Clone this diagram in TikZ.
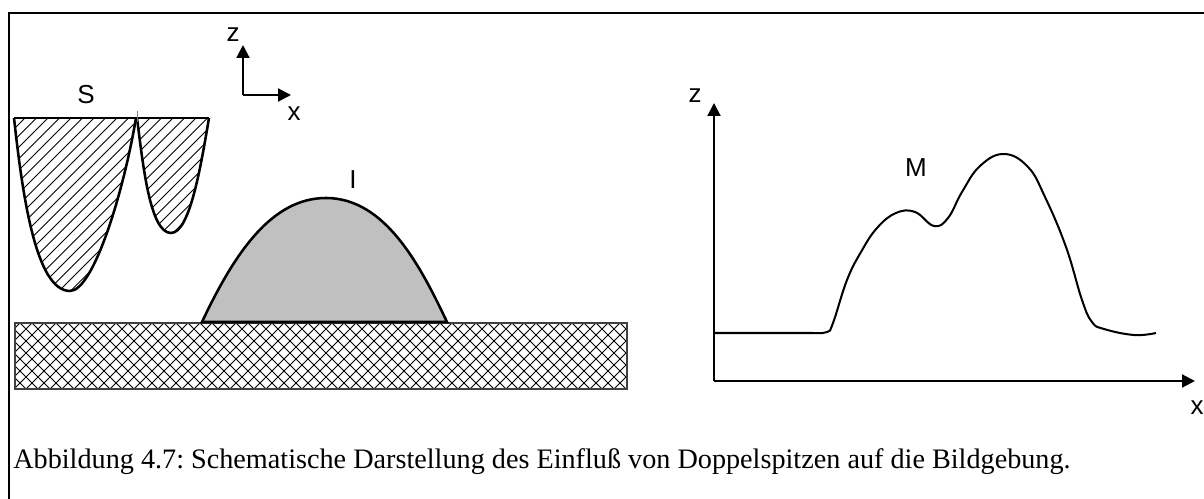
\documentclass[tikz,border=0pt]{standalone}
\usepackage{fontspec}
\setmainfont{Liberation Serif}
\setsansfont{Liberation Sans}
\usetikzlibrary{arrows.meta, positioning}
\definecolor{islandgray}{RGB}{192,192,192}
\tikzset{
    axis/.style = {line width=1.15pt, -{Triangle[length=7.4pt,width=7.4pt]}},
    outline/.style = {line width=1.45pt},
    label/.style = {font=\sffamily\fontsize{14.8}{15}\selectfont, inner sep=0pt},
    hatch/.style = {line width=.55pt, black},
}
\begin{document}
\begin{tikzpicture}[x=.02cm, y=-.02cm]
    \useasboundingbox (0,0) rectangle (1204,499);
    \draw[line width=.85pt] (1204,13) -- (9,13) -- (9,499);
    % tip
    \begin{scope}
        \clip (14,118) -- (136,118) .. controls (123,195) and (93,291) .. (70,291)
            .. controls (35,291) and (22,190) .. (14,118) -- cycle;
        \foreach \i in {0,1,...,24}{
            \draw[hatch] (\i*11.5-171,291) -- (\i*11.5+2,118);
        }
    \end{scope}
    \begin{scope}
        \clip (137,118) -- (209,118) .. controls (201,165) and (190,233) .. (171,233)
            .. controls (150,233) and (143,165) .. (137,118) -- cycle;
        \foreach \i in {0,1,...,18}{
            \draw[hatch] (\i*11.5-11,233) -- (\i*11.5+104,118);
        }
    \end{scope}
    \draw[outline] (14,118) -- (209,118);
    \draw[outline] (14,118) .. controls (22,190) and (35,291) .. (70,291)
        .. controls (93,291) and (123,195) .. (136,118);
    \draw[outline] (137,118) .. controls (143,165) and (150,233) .. (171,233)
        .. controls (190,233) and (201,165) .. (209,118);
    \draw[line width=.5pt, gray] (137,111) -- (137,122);
    \node[label] (tiplabel) at (86,95) {S};
    % small axes
    \coordinate (corner) at (243,95);
    \draw[axis] (corner) -- (243,45);
    \draw[axis] (corner) -- (291,95);
    \node[label] (zsmall) at (233,35) {z};
    \node[label] (xsmall) at (294,114) {x};
    % substrate and island
    \begin{scope}
        \clip (15,323) rectangle (627,389);
        \foreach \i in {0,1,...,57}{
            \draw[hatch] (\i*12-58,389) -- (\i*12+8,323);
            \draw[hatch] (\i*12-52,323) -- (\i*12+14,389);
        }
    \end{scope}
    \draw[line width=.95pt, black!75] (15,323) rectangle (627,389);
    \draw[outline, fill=islandgray] (202,322) .. controls (235,252) and (272,198) .. (326,198)
        .. controls (385,198) and (420,265) .. (447,322) -- cycle;
    \node[label] (islandlabel) at (353,180) {I};
    % measured profile
    \coordinate (origin) at (714,381);
    \draw[axis] (origin) -- (714,103);
    \draw[axis] (origin) -- (1195,381);
    \node[label] (zbig) at (695,96) {z};
    \node[label] (xbig) at (1197,408) {x};
    \node[label] (profilelabel) at (916,168) {M};
    \draw[line width=1.15pt] (714,333) -- (813,333) plot[smooth, tension=.7] coordinates {
        (813,333) (827,332) (833,323) (847,280) (861,252) (877,228) (896,213) (915,212)
        (934,226) (948,218) (962,192) (980,166) (1004,154) (1028,167) (1045,197)
        (1066,247) (1082,300) (1092,322) (1104,329) (1134,335) (1156,333)};
    % caption
    \node[anchor=base west, inner sep=0pt, font=\fontsize{16.05}{17}\selectfont] (caption) at (13,469) {\frenchspacing Abbildung 4.7: Schematische Darstellung des Einfluß von Doppelspitzen auf die Bildgebung.};
\end{tikzpicture}
\end{document}
